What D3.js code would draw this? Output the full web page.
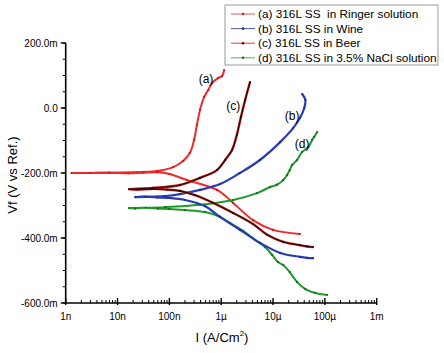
<!DOCTYPE html>
<html>
<head>
<meta charset="utf-8">
<script src="https://cdn.jsdelivr.net/npm/d3@7"></script>
<style>
  body { margin: 0; background: #fff; }
  text { font-family: "Liberation Sans", Arial, sans-serif; }
</style>
</head>
<body>
<svg id="chart" width="444" height="353"></svg>
<script>
// data: [current (A/cm2), potential (V)] in scan order
const ringer = [
  [3.3e-5, -0.388], [1.0e-5, -0.375], [4.1e-6, -0.345], [1.7e-6, -0.292],
  [8.3e-7, -0.252], [2.2e-7, -0.222], [1.0e-7, -0.203], [5.8e-8, -0.198],
  [3.2e-8, -0.199], [1.6e-8, -0.201], [7e-9, -0.199], [3e-9, -0.200], [1.3e-9, -0.200],
  [5.8e-8, -0.194], [1.18e-7, -0.182], [1.84e-7, -0.163], [2.5e-7, -0.138],
  [3.0e-7, -0.098], [3.4e-7, -0.052], [3.9e-7, -0.006], [4.7e-7, 0.034],
  [5.6e-7, 0.055], [6.7e-7, 0.077], [8.7e-7, 0.092], [1.04e-6, 0.098], [1.14e-6, 0.117]
];
const wine = [
  [5.9e-5, -0.462], [4.5e-5, -0.461], [3.3e-5, -0.458], [1.37e-5, -0.446], [5.6e-6, -0.415],
  [2.3e-6, -0.375], [9.5e-7, -0.335], [4.9e-7, -0.302], [2.0e-7, -0.283],
  [1.03e-7, -0.277], [6e-8, -0.275], [3.5e-8, -0.273], [2.2e-8, -0.274],
  [8.3e-8, -0.271], [1.6e-7, -0.265], [3.9e-7, -0.252], [9.5e-7, -0.234],
  [2.3e-6, -0.200], [5.6e-6, -0.160], [1.37e-5, -0.105], [2.44e-5, -0.062],
  [3.3e-5, -0.031], [4.0e-5, 0.0], [4.2e-5, 0.025], [3.65e-5, 0.043]
];
const beer = [
  [5.9e-5, -0.428], [4.5e-5, -0.426], [3.3e-5, -0.422], [1.57e-5, -0.412], [7.7e-6, -0.390],
  [4.1e-6, -0.357], [1.7e-6, -0.323], [7.0e-7, -0.292], [3.1e-7, -0.268],
  [1.6e-7, -0.255], [9e-8, -0.251], [4.5e-8, -0.249], [2.5e-8, -0.251], [1.67e-8, -0.250],
  [4.8e-8, -0.246], [1.6e-7, -0.237], [3.9e-7, -0.215], [8.3e-7, -0.191],
  [1.19e-6, -0.160], [1.62e-6, -0.129], [2.0e-6, -0.083], [2.4e-6, -0.028],
  [2.9e-6, 0.025], [3.6e-6, 0.080]
];
const nacl = [
  [1.1e-4, -0.575], [6.5e-5, -0.569], [4.2e-5, -0.557], [2.9e-5, -0.535],
  [2.1e-5, -0.505], [1.57e-5, -0.483], [1.25e-5, -0.474], [9.6e-6, -0.452],
  [7.0e-6, -0.428], [4.5e-6, -0.406], [2.65e-6, -0.378], [1.49e-6, -0.354],
  [9.5e-7, -0.335], [4.9e-7, -0.320], [2.0e-7, -0.314], [1.0e-7, -0.311],
  [6e-8, -0.309], [3.5e-8, -0.307], [2.2e-8, -0.309], [1.67e-8, -0.308],
  [8.3e-8, -0.305], [3.9e-7, -0.298], [1.7e-6, -0.283], [4.9e-6, -0.262],
  [8.8e-6, -0.243], [1.2e-5, -0.236], [1.57e-5, -0.222], [1.87e-5, -0.206], [2.1e-5, -0.191],
  [2.34e-5, -0.175], [2.9e-5, -0.160], [3.65e-5, -0.135], [4.8e-5, -0.120],
  [5.7e-5, -0.098], [6.2e-5, -0.089], [7.1e-5, -0.074]
];

const seriesNames = [
  "(a) 316L SS  in Ringer solution",
  "(b) 316L SS in Wine",
  "(c) 316L SS in Beer",
  "(d) 316L SS in 3.5% NaCl solution"
];
const curveLabels = [
  { text: "(a)", at: [5.1e-7, 0.089] },
  { text: "(c)", at: [1.7e-6, 0.006] },
  { text: "(b)", at: [2.34e-5, -0.025] },
  { text: "(d)", at: [3.65e-5, -0.111] }
];
const xTicks = [1e-9, 1e-8, 1e-7, 1e-6, 1e-5, 1e-4, 1e-3];
const xTickLabels = ["1n", "10n", "100n", "1\u00b5", "10\u00b5", "100\u00b5", "1m"];
const yTicks = [0.2, 0, -0.2, -0.4, -0.6];
const yTickLabels = ["200.0m", "0.0", "-200.0m", "-400.0m", "-600.0m"];

const svg = d3.select("#chart");

const x = d3.scaleLog().domain([1e-9, 1e-3]).range([65.7, 376.7]);
const y = d3.scaleLinear().domain([-0.6, 0.2]).range([303, 43]);

// axes
const yAxis = svg.append("g").attr("transform", "translate(65.7,0)");
yAxis.append("line").attr("y1", y(0.2)).attr("y2", y(-0.6) + 1).attr("stroke", "#000").attr("stroke-width", 1.6);
yAxis.selectAll(".minor").data(d3.range(-0.6, 0.2001, 0.05))
  .join("line")
  .attr("x1", -3).attr("x2", 0)
  .attr("y1", d => y(d)).attr("y2", d => y(d))
  .attr("stroke", "#000").attr("stroke-width", 1);
yAxis.selectAll(".major").data(yTicks)
  .join("line")
  .attr("x1", -5).attr("x2", 0)
  .attr("y1", d => y(d)).attr("y2", d => y(d))
  .attr("stroke", "#000").attr("stroke-width", 1.4);
yAxis.selectAll("text").data(yTicks)
  .join("text")
  .attr("x", -8).attr("y", d => y(d)).attr("dy", "0.35em")
  .attr("text-anchor", "end").attr("font-size", 10)
  .text((d, i) => yTickLabels[i]);

const xAxis = svg.append("g").attr("transform", `translate(0,${y(-0.6)})`);
xAxis.append("line").attr("x1", x(1e-9) - 1).attr("x2", x(1e-3)).attr("stroke", "#000").attr("stroke-width", 1.6);
const minorX = [];
for (let e = -9; e < -3; e++) {
  for (let m = 2; m < 10; m++) minorX.push(m * Math.pow(10, e));
}
xAxis.selectAll(".minor").data(minorX)
  .join("line")
  .attr("x1", d => x(d)).attr("x2", d => x(d))
  .attr("y1", -3).attr("y2", 0)
  .attr("stroke", "#000").attr("stroke-width", 1);
xAxis.selectAll(".major").data(xTicks)
  .join("line")
  .attr("x1", d => x(d)).attr("x2", d => x(d))
  .attr("y1", -5).attr("y2", 2)
  .attr("stroke", "#000").attr("stroke-width", 1.4);
xAxis.selectAll("text").data(xTicks)
  .join("text")
  .attr("x", d => x(d)).attr("y", 17)
  .attr("text-anchor", "middle").attr("font-size", 10)
  .text((d, i) => xTickLabels[i]);

// axis titles
svg.append("text")
  .attr("transform", `translate(17,${(y(0.2) + y(-0.6)) / 2 + 2}) rotate(-90)`)
  .attr("text-anchor", "middle").attr("font-size", 13)
  .text("Vf (V vs Ref.)");
const xt = svg.append("text")
  .attr("x", 222).attr("y", 342)
  .attr("text-anchor", "middle").attr("font-size", 13);
xt.append("tspan").text("I (A/Cm");
xt.append("tspan").attr("font-size", 8).attr("dy", -6).text("2");
xt.append("tspan").attr("dy", 6).text(")");

// curves
const line = d3.line().x(d => x(d[0])).y(d => y(d[1])).curve(d3.curveCatmullRom.alpha(0.5));

function drawCurve(data, color, width, dotColor) {
  svg.append("path").datum(data)
    .attr("d", line).attr("fill", "none")
    .attr("stroke", color).attr("stroke-width", width)
    .attr("stroke-linejoin", "round");
  svg.append("g").selectAll("circle").data(data)
    .join("circle")
    .attr("cx", d => x(d[0])).attr("cy", d => y(d[1]))
    .attr("r", 1.1).attr("fill", dotColor);
}

drawCurve(ringer, "#ee2b2b", 2, "#c81818");
drawCurve(nacl, "#1f9a2c", 2, "#106a18");
drawCurve(wine, "#2a3cb4", 2.2, "#1a2a90");
drawCurve(beer, "#c02020", 2.4, "#300000");
svg.append("path").datum(beer)
  .attr("d", line).attr("fill", "none")
  .attr("stroke", "#2a0404").attr("stroke-width", 1.1);

// curve labels
svg.append("g").selectAll("text").data(curveLabels)
  .join("text")
  .attr("x", d => x(d.at[0])).attr("y", d => y(d.at[1])).attr("dy", "0.35em")
  .attr("text-anchor", "middle").attr("font-size", 12)
  .text(d => d.text);

// legend
const legendColors = ["#e85555", "#4a5cc0", "#d84040", "#55b055"];
const legendDots = ["#c02020", "#1a2a90", "#700000", "#207a20"];
const legend = svg.append("g").attr("transform", "translate(225,5)");
legend.append("rect")
  .attr("width", 213).attr("height", 60)
  .attr("fill", "#fff").attr("stroke", "#9a9a9a").attr("stroke-width", 1);
const rows = legend.selectAll(".row").data(seriesNames)
  .join("g")
  .attr("transform", (d, i) => `translate(0,${9 + i * 14.6})`);
rows.append("line")
  .attr("x1", 6).attr("x2", 30)
  .attr("stroke", (d, i) => legendColors[i]).attr("stroke-width", 1);
rows.append("circle")
  .attr("cx", 18).attr("r", 1.3)
  .attr("fill", (d, i) => legendDots[i]);
rows.append("text")
  .attr("x", 33).attr("dy", "0.35em")
  .attr("font-size", 11.8)
  .style("white-space", "pre")
  .text(d => d);
</script>
</body>
</html>
